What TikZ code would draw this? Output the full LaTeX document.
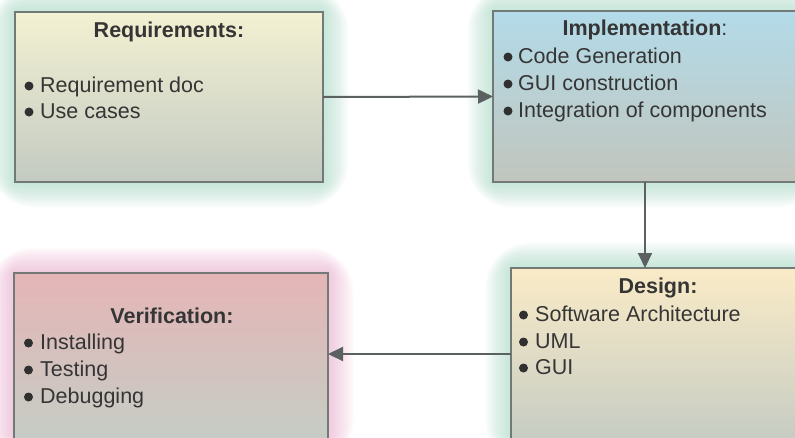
\documentclass[tikz,border=0pt]{standalone}
\usepackage{fontspec}
\setmainfont{Liberation Sans}
\usetikzlibrary{arrows.meta}

\definecolor{ink}{HTML}{353535}
\definecolor{edge}{HTML}{737977}
\definecolor{wire}{HTML}{5A6160}
\definecolor{dot}{HTML}{303030}
\definecolor{glowgreen}{HTML}{9ED9C0}
\definecolor{glowpink}{HTML}{EBA6CB}
\definecolor{reqtop}{HTML}{F3F1D2}
\definecolor{reqbot}{HTML}{C3CAC2}
\definecolor{imptop}{HTML}{B3DBE9}
\definecolor{impbot}{HTML}{C1C5BD}
\definecolor{destop}{HTML}{FAEBC7}
\definecolor{desbot}{HTML}{C6CCC3}
\definecolor{vertop}{HTML}{E5B5B6}
\definecolor{verbot}{HTML}{C5CDC5}

\pgfdeclarelayer{paper}
\pgfdeclarelayer{glow}
\pgfsetlayers{paper,glow,main}

\tikzset{
  box/.style={draw=edge, line width=2pt, inner sep=0pt, outer sep=0pt, rectangle},
  ttl/.style={text=ink, font=\fontsize{21.5}{25}\selectfont\bfseries, inner sep=0pt, anchor=base},
  itm/.style={text=ink, font=\fontsize{21.5}{25}\selectfont, inner sep=0pt, anchor=base west},
  conn/.style={draw=wire, line width=2pt, -{Triangle[length=15pt,width=14pt]}},
  halo/.style={line width=#1, opacity=0.045, line join=round},
  bul/.style={fill=dot}
}

\begin{document}
\begin{tikzpicture}[x=1pt,y=-1pt]
  \useasboundingbox (0,0) rectangle (795,437);
  \begin{pgfonlayer}{paper}
    \fill[white] (0,0) rectangle (795,437);
  \end{pgfonlayer}

  % the four phase boxes
  \node[box, top color=reqtop, bottom color=reqbot,
        minimum width=308pt, minimum height=170pt] (req) at (169,97) {};
  \node[box, top color=imptop, bottom color=impbot,
        minimum width=304pt, minimum height=171pt] (impl) at (645,96.5) {};
  \node[box, top color=destop, bottom color=desbot,
        minimum width=294pt, minimum height=172pt] (des) at (658,354) {};
  \node[box, top color=vertop, bottom color=verbot,
        minimum width=314pt, minimum height=167pt] (ver) at (171,356.5) {};

  % soft halo behind each box
  \begin{pgfonlayer}{glow}
    \foreach \k in {1,...,16} {
      \draw[glowgreen, halo=\k*3.2pt, rounded corners=\k*1.2pt] (req.south west) rectangle (req.north east);
      \draw[glowgreen, halo=\k*3.2pt, rounded corners=\k*1.2pt] (impl.south west) rectangle (impl.north east);
      \draw[glowgreen, halo=\k*3.2pt, rounded corners=\k*1.2pt] (des.south west) rectangle (des.north east);
      \draw[glowpink, halo=\k*3.2pt, rounded corners=\k*1.2pt] (ver.south west) rectangle (ver.north east);
    }
  \end{pgfonlayer}

  % Requirements
  \node[ttl] (reqT) at (169,37) {Requirements:};
  \node[itm] (req1) at (40,92) {Requirement doc};
  \node[itm] (req2) at (40,118) {Use cases};
  \fill[bul] (29,86) circle (4.5pt);
  \fill[bul] (29,112) circle (4.5pt);

  % Implementation
  \node[ttl] (implT) at (645,35) {Implementation\mdseries:};
  \node[itm] (impl1) at (518,63) {Code Generation};
  \node[itm] (impl2) at (518,90) {GUI construction};
  \node[itm] (impl3) at (518,117) {Integration of components};
  \fill[bul] (508,57) circle (4.5pt);
  \fill[bul] (508,84) circle (4.5pt);
  \fill[bul] (508,111) circle (4.5pt);

  % Design
  \node[ttl] (desT) at (658,293) {Design:};
  \node[itm] (des1) at (535,321) {Software Architecture};
  \node[itm] (des2) at (535,348) {UML};
  \node[itm] (des3) at (535,374) {GUI};
  \fill[bul] (523.5,315) circle (4.5pt);
  \fill[bul] (523.5,342) circle (4.5pt);
  \fill[bul] (523.5,368) circle (4.5pt);

  % Verification
  \node[ttl] (verT) at (172,323) {Verification:};
  \node[itm] (ver1) at (40,349) {Installing};
  \node[itm] (ver2) at (40,376) {Testing};
  \node[itm] (ver3) at (40,403) {Debugging};
  \fill[bul] (28.5,343) circle (4.5pt);
  \fill[bul] (28.5,370) circle (4.5pt);
  \fill[bul] (28.5,397) circle (4.5pt);

  % flow between phases
  \draw[conn] (req.east) -- (impl.west);
  \draw[conn] (impl.south) -- (impl.south |- des.north);
  \draw[conn] (des.west) -- (des.west -| ver.east);
\end{tikzpicture}
\end{document}
